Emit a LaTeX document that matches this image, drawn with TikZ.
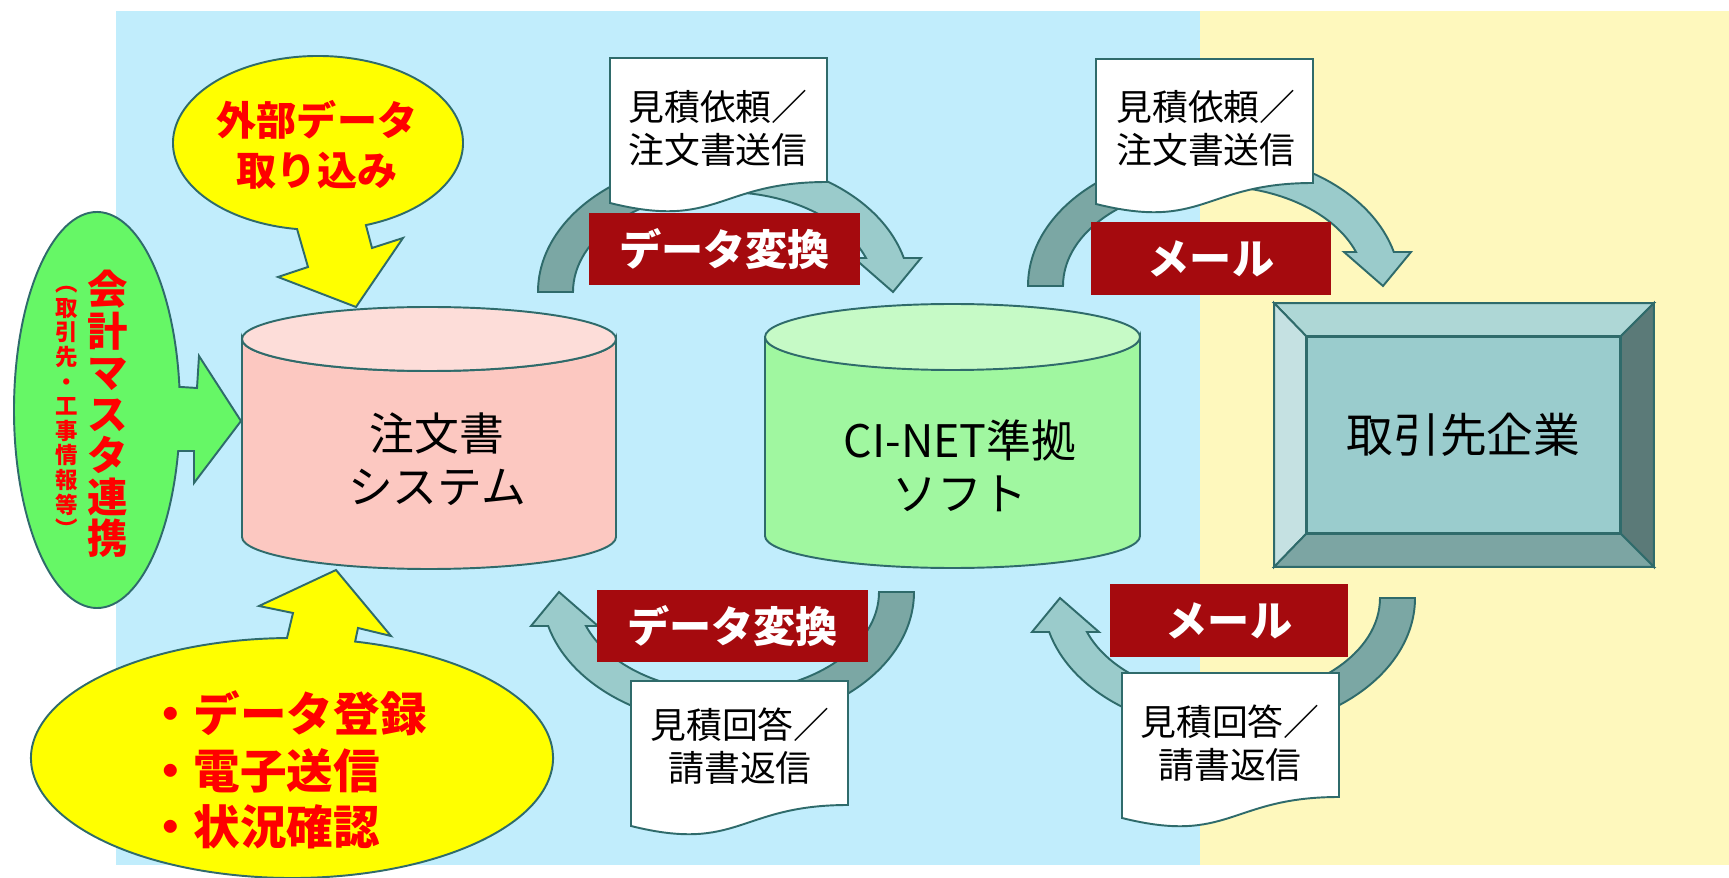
\documentclass[tikz,border=0pt]{standalone}
\usepackage{fontspec}
\setmainfont{Noto Sans CJK JP}
\usetikzlibrary{shapes.geometric,positioning,calc}

\definecolor{skyback}{HTML}{C1EDFC}
\definecolor{creamback}{HTML}{FEF8BD}
\definecolor{edgeteal}{HTML}{2F6B6B}
\definecolor{arrowdark}{HTML}{7BA7A4}
\definecolor{arrowlight}{HTML}{9ACBCB}
\definecolor{labelred}{HTML}{A50A0E}
\definecolor{calloutyellow}{HTML}{FFFF00}
\definecolor{calloutgreen}{HTML}{66F766}
\definecolor{pinkcap}{HTML}{FDDDD9}
\definecolor{pinkbody}{HTML}{FCC8C1}
\definecolor{greencap}{HTML}{C6FAC6}
\definecolor{greenbody}{HTML}{A0F7A0}
\definecolor{bevelface}{HTML}{9ACCCD}
\definecolor{beveltop}{HTML}{AED7D6}
\definecolor{bevelleft}{HTML}{C5E1E2}
\definecolor{bevelright}{HTML}{5B7A78}
\definecolor{bevelbottom}{HTML}{7CA5A3}

\tikzset{
  outline/.style={draw=edgeteal, line width=1.1pt},
  labelbox/.style={fill=labelred, text=white, inner sep=0pt,
    font=\bfseries\fontsize{24}{28}\selectfont},
  doctext/.style={align=center, font=\fontsize{20.4}{24.4}\selectfont},
  memo/.pic={
    \filldraw[outline, fill=white] (0,0) -- (217,0) -- (217,124)
      .. controls (108,124) and (108,172) .. (0,145) -- cycle;
  },
}

% curved block arrow: center x, center y, rotation
\newcommand{\swingarrow}[3]{%
  \begin{scope}[shift={(#1,#2)}, rotate=#3]
    \filldraw[outline, fill=arrowdark] (180:186 and 133)
      arc[start angle=180, end angle=270, x radius=186, y radius=133]
      -- (270:151 and 100)
      arc[start angle=270, end angle=180, x radius=151, y radius=100] -- cycle;
    \filldraw[outline, fill=arrowlight] (270:186 and 133)
      arc[start angle=270, end angle=345.2, x radius=186, y radius=133]
      -- (197,-34) -- (169,0) -- (130,-34) -- (340.1:151 and 100)
      arc[start angle=340.1, end angle=270, x radius=151, y radius=100] -- cycle;
  \end{scope}}

\begin{document}
\begin{tikzpicture}[x=0.02cm, y=-0.02cm]
    \useasboundingbox (0,0) rectangle (1729,878);

    % backgrounds
    \fill[skyback] (116,11) rectangle (1200,865);
    \fill[creamback] (1200,11) rectangle (1729,865);

    % callouts
    \filldraw[outline, fill=calloutyellow] ($(318,143)+(98.3:145 and 87)$)
      -- (308,267) -- (278,277) -- (356,307) -- (403,238) -- (372,248)
      -- ($(318,143)+(70.7:145 and 87)$)
      arc[start angle=70.7, end angle=-261.7, x radius=145, y radius=87] -- cycle;
    \node[text=red, align=center, font=\bfseries\fontsize{22.8}{28.4}\selectfont]
      (importtxt) at (317,145) {外部データ\\取り込み};

    \filldraw[outline, fill=calloutgreen] ($(97,410)+(353.3:83 and 198)$)
      -- (197,388) -- (199,356) -- (241,421) -- (194,483) -- (194,451)
      -- ($(97,410)+(11.95:83 and 198)$)
      arc[start angle=11.95, end angle=353.3, x radius=83, y radius=198] -- cycle;
    \node[text=red, align=center, font=\bfseries\fontsize{23}{23.6}\selectfont]
      (mastertxt) at (108,414) {会\\計\\マ\\ス\\タ\\連\\携};
    \node[text=red, align=center, font=\bfseries\fontsize{12.8}{14}\selectfont]
      (mastersub) at (67,412) {︵\\取\\引\\先\\・\\工\\事\\情\\報\\等\\︶};

    \filldraw[outline, fill=calloutyellow] ($(292,758)+(268.9:261 and 120)$)
      -- (293,613) -- (259,606) -- (336,570) -- (391,636) -- (358,628)
      -- ($(292,758)+(284:261 and 120)$)
      arc[start angle=284, end angle=628.9, x radius=261, y radius=120] -- cycle;
    \node[text=red, align=left, anchor=west, font=\bfseries\fontsize{26.5}{32.3}\selectfont]
      (tasks) at (141,770) {・データ登録\\・電子送信\\・状況確認};

    % databases
    \filldraw[outline, fill=pinkbody] (242,339) -- (242,537)
      arc[start angle=180, end angle=0, x radius=187, y radius=32] -- (616,339)
      arc[start angle=0, end angle=180, x radius=187, y radius=32] -- cycle;
    \filldraw[outline, fill=pinkcap] (429,339) ellipse[x radius=187, y radius=32];
    \node[align=center, font=\fontsize{25.5}{30}\selectfont] (ordersys) at (437,459) {注文書\\システム};

    \filldraw[outline, fill=greenbody] (765,337) -- (765,536)
      arc[start angle=180, end angle=0, x radius=187.5, y radius=32] -- (1140,337)
      arc[start angle=0, end angle=180, x radius=187.5, y radius=32] -- cycle;
    \filldraw[outline, fill=greencap] (952.5,337) ellipse[x radius=187.5, y radius=33];
    \node[align=center, font=\fontsize{25.5}{30}\selectfont] (cinet) at (960,466) {CI-NET準拠\\ソフト};

    % exchange arrows
    \swingarrow{724}{292}{0}
    \swingarrow{1214}{286}{0}
    \swingarrow{728}{592}{180}
    \swingarrow{1229}{598}{180}

    % documents
    \pic at (610,58) {memo};
    \node[doctext] (ask1) at (718,128) {見積依頼／\\注文書送信};
    \pic at (1096,59) {memo};
    \node[doctext] (ask2) at (1206,128) {見積依頼／\\注文書送信};
    \pic at (631,681) {memo};
    \node[doctext] (reply1) at (740,746) {見積回答／\\請書返信};
    \pic at (1122,673) {memo};
    \node[doctext] (reply2) at (1230,743) {見積回答／\\請書返信};

    % labels
    \node[labelbox, minimum width=5.42cm, minimum height=1.44cm] (conv1) at (724.5,249) {データ変換};
    \node[labelbox, minimum width=4.8cm, minimum height=1.46cm] (mail1) at (1211,258.5) {メール};
    \node[labelbox, minimum width=5.42cm, minimum height=1.44cm] (conv2) at (732.5,626) {データ変換};
    \node[labelbox, minimum width=4.76cm, minimum height=1.46cm] (mail2) at (1229,620.5) {メール};

    % partner company
    \node[outline, fill=bevelface, minimum width=6.26cm, minimum height=3.92cm, inner sep=0pt,
      font=\fontsize{26.6}{30}\selectfont] (partner) at (1463.5,435) {取引先企業};
    \filldraw[outline, fill=beveltop] (partner.north west) -- ++(-32,-33)
      -- ($(partner.north east)+(33,-33)$) -- (partner.north east) -- cycle;
    \filldraw[outline, fill=bevelleft] (partner.north west) -- ++(-32,-33)
      -- ($(partner.south west)+(-32,33)$) -- (partner.south west) -- cycle;
    \filldraw[outline, fill=bevelright] (partner.north east) -- ++(33,-33)
      -- ($(partner.south east)+(33,33)$) -- (partner.south east) -- cycle;
    \filldraw[outline, fill=bevelbottom] (partner.south west) -- ++(-32,33)
      -- ($(partner.south east)+(33,33)$) -- (partner.south east) -- cycle;
\end{tikzpicture}
\end{document}
